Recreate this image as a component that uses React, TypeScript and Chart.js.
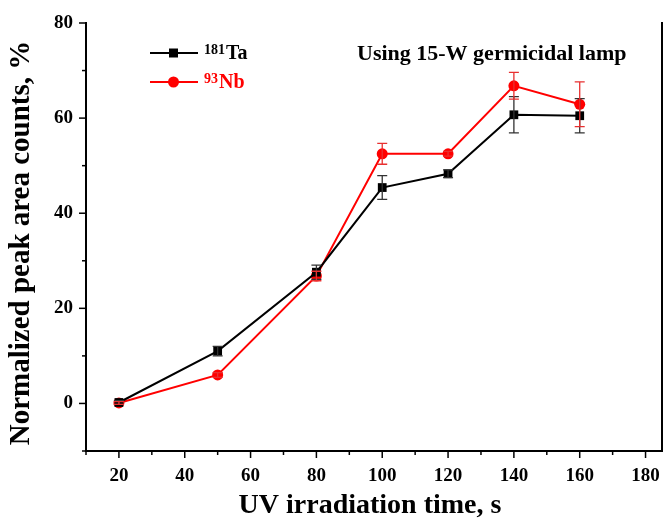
import React, { useEffect, useRef } from "react";
import { Chart, registerables } from "chart.js";

Chart.register(...registerables);

const times = [20, 50, 80, 100, 120, 140, 160];
const taValues = [0.2, 11.0, 27.6, 45.4, 48.3, 60.7, 60.5];
const taErrors = [0.4, 1.0, 1.5, 2.5, 0.8, 3.8, 3.6];
const nbValues = [0.1, 6.0, 26.8, 52.5, 52.5, 66.8, 62.9];
const nbErrors = [0.3, 0.5, 1.0, 2.2, 0.5, 2.8, 4.7];
const xTickValues = [20, 40, 60, 80, 100, 120, 140, 160, 180];
const xMinorValues = [10, 30, 50, 70, 90, 110, 130, 150, 170];
const yTickValues = [0, 20, 40, 60, 80];
const yMinorValues = [-10, 10, 30, 50, 70];
const seriesNames = ["Ta", "Nb"];
const seriesIsotopes = ["181", "93"];
const annotationText = "Using 15-W germicidal lamp";
const xTitle = "UV irradiation time, s";
const yTitle = "Normalized peak area counts, %";

const BLACK = "#000000";
const RED = "#ff0000";
const SERIF = "'Liberation Serif', 'Times New Roman', serif";

const decorPlugin = {
  id: "decor",
  afterDatasetsDraw(chart: any) {
    const { ctx, scales } = chart;
    const xs = scales.x;
    const ys = scales.y;
    ctx.save();
    const drawErr = (vals: number[], errs: number[], color: string) => {
      ctx.strokeStyle = color;
      ctx.lineWidth = 1.3;
      vals.forEach((v, i) => {
        const px = xs.getPixelForValue(times[i]);
        const top = ys.getPixelForValue(v + errs[i]);
        const bot = ys.getPixelForValue(v - errs[i]);
        ctx.beginPath();
        ctx.moveTo(px, top);
        ctx.lineTo(px, bot);
        ctx.moveTo(px - 5, top);
        ctx.lineTo(px + 5, top);
        ctx.moveTo(px - 5, bot);
        ctx.lineTo(px + 5, bot);
        ctx.stroke();
      });
    };
    drawErr(taValues, taErrors, "#333333");
    drawErr(nbValues, nbErrors, "#e83030");
    ctx.restore();
  },
  afterDraw(chart: any) {
    const { ctx, chartArea, scales } = chart;
    const xs = scales.x;
    const ys = scales.y;
    ctx.save();
    ctx.strokeStyle = BLACK;
    ctx.lineWidth = 2;
    ctx.beginPath();
    ctx.moveTo(chartArea.right, chartArea.top - 1);
    ctx.lineTo(chartArea.right, chartArea.bottom + 1);
    ctx.stroke();
    ctx.lineWidth = 1.5;
    const b = chartArea.bottom;
    const l = chartArea.left;
    xTickValues.forEach((v) => {
      const p = xs.getPixelForValue(v);
      ctx.beginPath();
      ctx.moveTo(p, b);
      ctx.lineTo(p, b + 7);
      ctx.stroke();
    });
    xMinorValues.forEach((v) => {
      const p = xs.getPixelForValue(v);
      ctx.beginPath();
      ctx.moveTo(p, b);
      ctx.lineTo(p, b + 4);
      ctx.stroke();
    });
    yTickValues.forEach((v) => {
      const p = ys.getPixelForValue(v);
      ctx.beginPath();
      ctx.moveTo(l, p);
      ctx.lineTo(l - 7, p);
      ctx.stroke();
    });
    yMinorValues.forEach((v) => {
      const p = ys.getPixelForValue(v);
      ctx.beginPath();
      ctx.moveTo(l, p);
      ctx.lineTo(l - 4, p);
      ctx.stroke();
    });

    ctx.fillStyle = BLACK;
    ctx.font = `bold 28px ${SERIF}`;
    ctx.textAlign = "center";
    ctx.textBaseline = "middle";
    ctx.fillText(xTitle, 370, 506);
    ctx.save();
    ctx.translate(22, 243);
    ctx.rotate(-Math.PI / 2);
    ctx.font = `bold 29px ${SERIF}`;
    ctx.fillText(yTitle, 0, 0);
    ctx.restore();

    ctx.font = `bold 22px ${SERIF}`;
    ctx.textAlign = "left";
    ctx.textBaseline = "middle";
    ctx.fillText(annotationText, 357, 54);

    const legendRows = [
      { y: 53, color: BLACK, style: "rect" },
      { y: 82, color: RED, style: "circle" },
    ];
    legendRows.forEach((row, i) => {
      ctx.strokeStyle = row.color;
      ctx.fillStyle = row.color;
      ctx.lineWidth = 2;
      ctx.beginPath();
      ctx.moveTo(150, row.y);
      ctx.lineTo(198, row.y);
      ctx.stroke();
      ctx.beginPath();
      if (row.style === "rect") {
        ctx.rect(169, row.y - 4.5, 9, 9);
      } else {
        ctx.arc(173.5, row.y, 5.5, 0, Math.PI * 2);
      }
      ctx.fill();
      ctx.textAlign = "left";
      ctx.textBaseline = "alphabetic";
      ctx.font = `bold 14px ${SERIF}`;
      ctx.fillText(seriesIsotopes[i], 204, row.y + 1);
      const w = ctx.measureText(seriesIsotopes[i]).width;
      ctx.font = `bold 20px ${SERIF}`;
      ctx.fillText(seriesNames[i], 204 + w + 1, row.y + 6);
    });
    ctx.restore();
  },
};

export default function App() {
  const ref = useRef<HTMLCanvasElement>(null);
  useEffect(() => {
    document.body.style.margin = "0";
    const canvas = ref.current!;
    const chart = new Chart(canvas, {
      type: "line",
      data: {
        datasets: [
          {
            label: "181Ta",
            data: times.map((t, i) => ({ x: t, y: taValues[i] })),
            borderColor: BLACK,
            backgroundColor: BLACK,
            borderWidth: 2,
            pointStyle: "rect",
            pointRadius: 6.2,
            pointBorderWidth: 0,
          },
          {
            label: "93Nb",
            data: times.map((t, i) => ({ x: t, y: nbValues[i] })),
            borderColor: RED,
            backgroundColor: RED,
            borderWidth: 2,
            pointStyle: "circle",
            pointRadius: 5.5,
            pointBorderWidth: 0,
          },
        ],
      },
      options: {
        animation: false,
        responsive: false,
        maintainAspectRatio: false,
        layout: { autoPadding: false, padding: { top: 23, right: 2, left: 0, bottom: 0 } },
        plugins: {
          legend: { display: false },
          tooltip: { enabled: false },
        },
        scales: {
          x: {
            type: "linear",
            min: 10,
            max: 185,
            afterBuildTicks: (s: any) => {
              s.ticks = xTickValues.map((v) => ({ value: v }));
            },
            afterFit: (s: any) => {
              s.height = 78;
              s.paddingLeft = 0;
              s.paddingRight = 0;
            },
            grid: { display: false, drawTicks: false },
            border: { display: true, color: BLACK, width: 2 },
            ticks: {
              color: BLACK,
              padding: 14,
              font: { family: SERIF, size: 19, weight: "bold" },
              maxRotation: 0,
            },
          },
          y: {
            type: "linear",
            min: -10,
            max: 80,
            afterBuildTicks: (s: any) => {
              s.ticks = yTickValues.map((v) => ({ value: v }));
            },
            afterFit: (s: any) => {
              s.width = 86;
              s.paddingTop = 0;
              s.paddingBottom = 0;
            },
            grid: { display: false, drawTicks: false },
            border: { display: true, color: BLACK, width: 2 },
            ticks: {
              color: BLACK,
              padding: 13,
              font: { family: SERIF, size: 19, weight: "bold" },
            },
          },
        },
      },
      plugins: [decorPlugin],
    } as any);
    return () => chart.destroy();
  }, []);
  return <canvas ref={ref} width={664} height={529} style={{ display: "block" }} />;
}
